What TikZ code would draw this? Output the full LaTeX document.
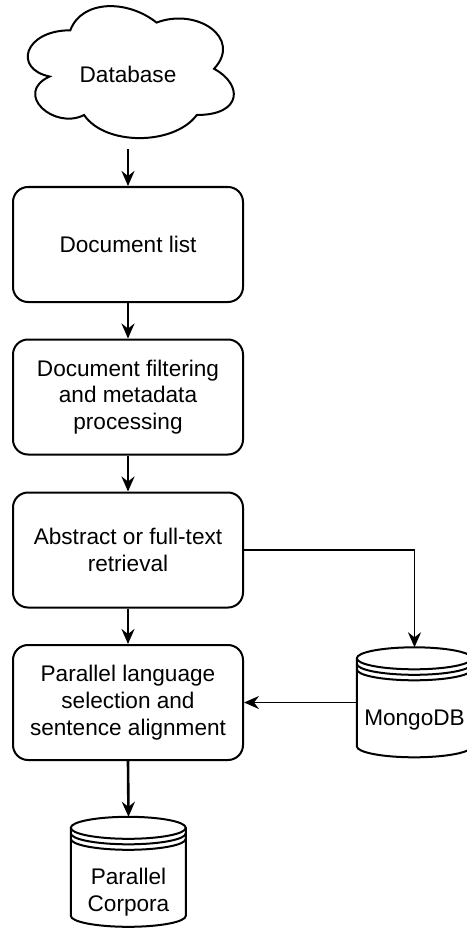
\documentclass[tikz,border=0pt]{standalone}
\usepackage{fontspec}
\setmainfont{Liberation Sans}
\usetikzlibrary{arrows.meta}

% Cylinder-shaped data store drawn inside the frame of a named node
% (width 115pt, height 110pt, cap half-height 11pt)
\newcommand\drawstore[1]{%
  \begin{scope}[shift={(#1.north west)}, storeline]
    \draw[fill=white] (0,11) arc[start angle=180, end angle=360, x radius=57.5, y radius=11]
      -- (115,99) arc[start angle=0, end angle=180, x radius=57.5, y radius=11] -- cycle;
    \draw (0,11)   arc[start angle=180, end angle=0, x radius=57.5, y radius=11];
    \draw (0,16.5) arc[start angle=180, end angle=0, x radius=57.5, y radius=11];
    \draw (0,22)   arc[start angle=180, end angle=0, x radius=57.5, y radius=11];
  \end{scope}}

\begin{document}
\begin{tikzpicture}[x=1pt, y=-1pt,
  every node/.style={font=\fontsize{22.6}{26.7}\selectfont, align=center, inner sep=0pt},
  stepbox/.style={draw, line width=2pt, rounded corners=15pt, fill=white,
    minimum width=230pt, minimum height=115pt},
  frame/.style={minimum width=230pt, minimum height=154pt},
  storebox/.style={minimum width=115pt, minimum height=110pt},
  storeline/.style={line width=2pt},
  flow/.style={line width=2.6pt, -{Stealth[length=15pt, width=13pt, inset=5pt]}},
  side/.style={line width=1.8pt, -{Stealth[length=15pt, width=13pt, inset=5pt]}},
]
\useasboundingbox (0,0) rectangle (466,928);

% source cloud
\node[frame] (db) at (128,69) {};
\begin{scope}[shift={(db.north west)}, x=230pt, y=-154pt]
  \draw[line width=2pt, fill=white]
    (0.25,0.25) .. controls (0.05,0.25) and (0,0.5) .. (0.16,0.55)
    .. controls (0,0.66) and (0.18,0.9) .. (0.31,0.8)
    .. controls (0.4,1) and (0.7,1) .. (0.8,0.8)
    .. controls (1,0.8) and (1,0.6) .. (0.875,0.5)
    .. controls (1,0.3) and (0.8,0.1) .. (0.625,0.2)
    .. controls (0.5,0.05) and (0.3,0.05) .. (0.25,0.25) -- cycle;
\end{scope}
\node (dbtext) at (128,74) {Database};

% processing steps
\node[stepbox] (b1) at (128,244.5) {Document list};
\node[stepbox] (b2) at (128,397) {Document filtering\\and metadata\\processing};
\node[stepbox] (b3) at (128,550) {Abstract or full-text\\retrieval};
\node[stepbox] (b4) at (128,702.5) {Parallel language\\selection and\\sentence alignment};

% data stores
\node[storebox] (mongo) at (414.5,702.5) {};
\drawstore{mongo}
\node (mongotext) at (414.5,720) {MongoDB};

\node[storebox] (corp) at (128.5,872) {};
\drawstore{corp}
\node (corptext) at (128.5,892) {Parallel\\Corpora};

% connectors
\draw[flow] ([yshift=-3pt]db.south) -- (b1.north);
\draw[flow] (b1.south) -- (b2.north);
\draw[flow] (b2.south) -- (b3.north);
\draw[flow] (b3.south) -- (b4.north);
\draw[flow] (b4.south) -- (corp.north);
\draw[side] (b3.east) -| (mongo.north);
\draw[side] (mongo.west) -- (b4.east);
\end{tikzpicture}
\end{document}
